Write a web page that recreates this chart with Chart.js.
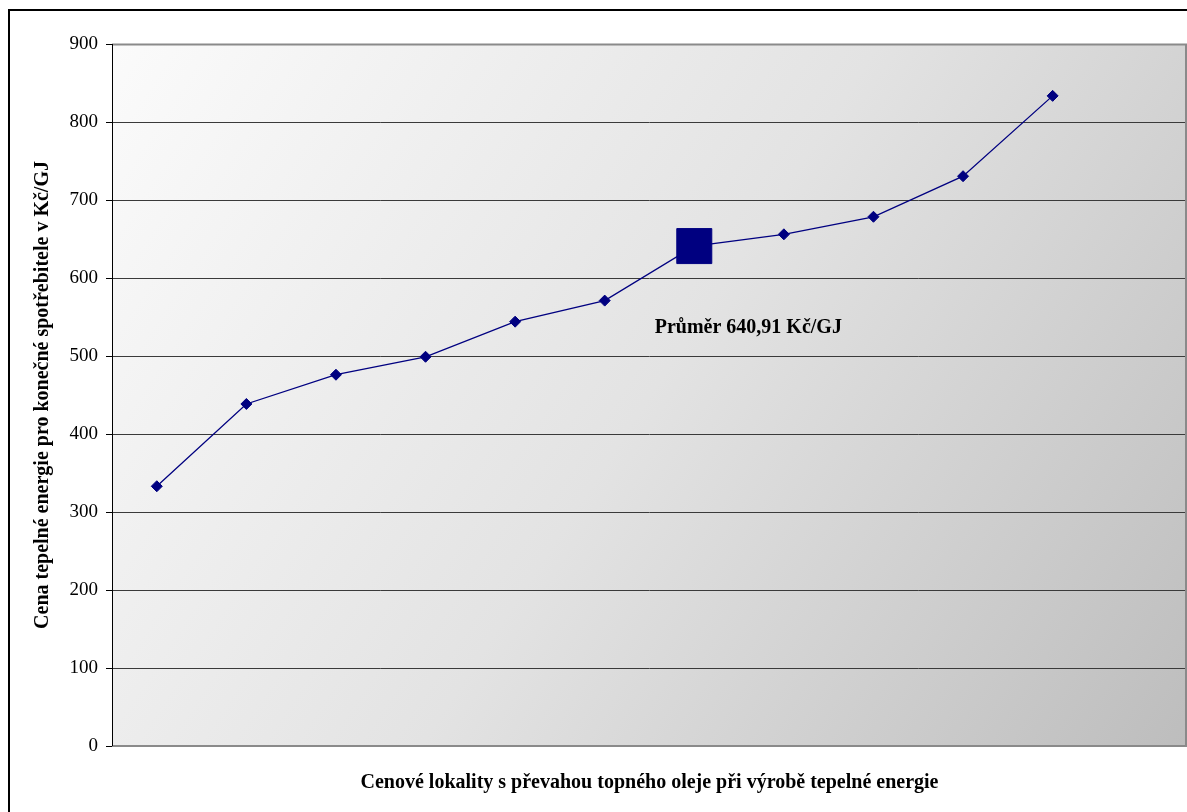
<!DOCTYPE html>
<html>
<head>
<meta charset="utf-8">
<script src="https://cdn.jsdelivr.net/npm/chart.js@4.4.1/dist/chart.umd.min.js"></script>
<style>
  html, body { margin: 0; padding: 0; background: #ffffff; }
  #wrap { width: 1187px; height: 812px; position: relative; }
</style>
</head>
<body>
<div id="wrap"><canvas id="c" width="1187" height="812"></canvas></div>
<script>
// Price localities (one slot per locality, last slot left empty)
const categories = ['1', '2', '3', '4', '5', '6', '7', '8', '9', '10', '11', ''];
// Heat price for end consumers, Kč/GJ; slot 7 holds the average
const prices = [333, 438.5, 476, 499, 544, 571, 640.91, 656, 678.5, 730.5, 833.5, null];
const averageIndex = 6;
const averageLabel = 'Průměr 640,91 Kč/GJ';
const yTicks = [0, 100, 200, 300, 400, 500, 600, 700, 800, 900];

const NAVY = '#000080';
const SERIF = '"Liberation Serif", "Times New Roman", serif';

const plotArea = { left: 112, top: 44, right: 1187, bottom: 746 };

const pointStyles = prices.map((v, i) => i === averageIndex ? 'rect' : 'rectRot');
const pointRadii = prices.map((v, i) => i === averageIndex ? 24.75 : 5.5);

// Gradient fill behind the plot and the outer frame of the chart
const backdrop = {
  id: 'backdrop',
  beforeDraw(chart) {
    const { ctx, chartArea: a } = chart;
    ctx.save();
    const g = ctx.createLinearGradient(a.left, a.top, a.right, a.bottom);
    g.addColorStop(0, '#fbfbfb');
    g.addColorStop(0.5, '#e3e3e3');
    g.addColorStop(1, '#bdbdbd');
    ctx.fillStyle = g;
    ctx.fillRect(a.left, a.top, a.right - a.left, a.bottom - a.top);
    // outer frame
    ctx.strokeStyle = '#000000';
    ctx.lineWidth = 2;
    ctx.beginPath();
    ctx.moveTo(9, 812);
    ctx.lineTo(9, 10);
    ctx.lineTo(1187, 10);
    ctx.stroke();
    ctx.restore();
  },
  afterDatasetsDraw(chart) {
    const { ctx, chartArea: a } = chart;
    ctx.save();
    // plot border (top, right, bottom)
    ctx.strokeStyle = '#8a8a8a';
    ctx.lineWidth = 2;
    ctx.beginPath();
    ctx.moveTo(a.left, a.top + 0.5);
    ctx.lineTo(a.right - 1, a.top + 0.5);
    ctx.lineTo(a.right - 1, a.bottom);
    ctx.lineTo(a.left, a.bottom);
    ctx.stroke();
    // left axis line
    ctx.strokeStyle = '#000000';
    ctx.lineWidth = 1;
    ctx.beginPath();
    ctx.moveTo(a.left + 0.5, a.top);
    ctx.lineTo(a.left + 0.5, a.bottom);
    ctx.stroke();
    // average label under the highlighted point
    const x = chart.scales.x.getPixelForValue(averageIndex);
    const y = chart.scales.y.getPixelForValue(prices[averageIndex]);
    ctx.fillStyle = '#000000';
    ctx.font = 'bold 20px ' + SERIF;
    ctx.textAlign = 'center';
    ctx.textBaseline = 'middle';
    ctx.fillText(averageLabel, x + 54, y + 82);
    ctx.restore();
  }
};

new Chart(document.getElementById('c'), {
  type: 'line',
  data: {
    labels: categories,
    datasets: [{
      data: prices,
      borderColor: NAVY,
      borderWidth: 1.3,
      backgroundColor: NAVY,
      pointBackgroundColor: NAVY,
      pointBorderColor: NAVY,
      pointBorderWidth: 1,
      pointStyle: pointStyles,
      pointRadius: pointRadii,
      pointHoverRadius: pointRadii,
      tension: 0,
      spanGaps: false,
      clip: false
    }]
  },
  options: {
    responsive: false,
    animation: false,
    devicePixelRatio: 1,
    layout: {
      autoPadding: false,
      padding: { top: plotArea.top, right: 0, bottom: 0, left: 0 }
    },
    plugins: {
      legend: { display: false },
      tooltip: { enabled: false },
      title: { display: false }
    },
    scales: {
      x: {
        type: 'category',
        offset: true,
        grid: { display: false, drawTicks: false },
        border: { display: false },
        ticks: { display: false },
        title: {
          display: true,
          text: 'Cenové lokality s převahou topného oleje při výrobě tepelné energie',
          color: '#000000',
          font: { family: SERIF, size: 20, weight: 'bold' },
          padding: { top: 0, bottom: 17 }
        },
        afterFit(scale) { scale.height = 812 - plotArea.bottom; }
      },
      y: {
        min: 0,
        max: 900,
        afterBuildTicks(scale) { scale.ticks = yTicks.map(v => ({ value: v })); },
        grid: {
          color: '#3a3a3a',
          lineWidth: 1,
          drawTicks: true,
          tickLength: 6,
          tickColor: '#000000'
        },
        border: { display: false },
        ticks: {
          color: '#000000',
          font: { family: SERIF, size: 19 },
          padding: 8
        },
        title: {
          display: true,
          text: 'Cena tepelné energie pro konečné spotřebitele v Kč/GJ',
          color: '#000000',
          font: { family: SERIF, size: 20, weight: 'bold' },
          padding: { top: 31, bottom: 0 }
        },
        afterFit(scale) { scale.width = plotArea.left; }
      }
    }
  },
  plugins: [backdrop]
});
</script>
</body>
</html>
